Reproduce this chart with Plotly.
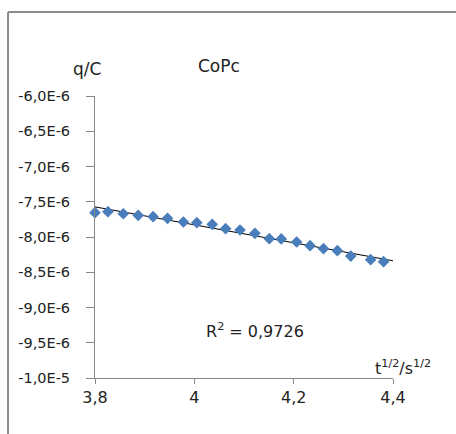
import numpy as np
import plotly.graph_objects as go

# data
x_vals = [3.800, 3.826, 3.857, 3.887, 3.917, 3.946, 3.978, 4.005, 4.036, 4.063, 4.092,
          4.122, 4.151, 4.175, 4.206, 4.233, 4.260, 4.288, 4.315, 4.355, 4.381]
q_vals = [-7.655e-6, -7.641e-6, -7.670e-6, -7.692e-6, -7.712e-6, -7.735e-6, -7.787e-6,
          -7.797e-6, -7.820e-6, -7.882e-6, -7.901e-6, -7.948e-6, -8.024e-6, -8.028e-6,
          -8.071e-6, -8.123e-6, -8.166e-6, -8.194e-6, -8.270e-6, -8.322e-6, -8.350e-6]
trend_x = [3.8, 4.4]

y_tickvals = [-6.0e-6, -6.5e-6, -7.0e-6, -7.5e-6, -8.0e-6, -8.5e-6, -9.0e-6, -9.5e-6, -1.0e-5]
y_ticktext = ["-6,0E-6", "-6,5E-6", "-7,0E-6", "-7,5E-6", "-8,0E-6", "-8,5E-6",
              "-9,0E-6", "-9,5E-6", "-1,0E-5"]
x_tickvals = [3.8, 4.0, 4.2, 4.4]
x_ticktext = ["3,8", "4", "4,2", "4,4"]

slope, intercept = np.polyfit(x_vals, q_vals, 1)
trend_y = [slope * v + intercept for v in trend_x]

FONT = "DejaVu Sans"
AX = "#888888"

fig = go.Figure()
fig.add_trace(go.Scatter(x=trend_x, y=trend_y, mode="lines",
                         line=dict(color="black", width=1), hoverinfo="skip"))
fig.add_trace(go.Scatter(x=x_vals, y=q_vals, mode="markers", cliponaxis=False,
                         marker=dict(symbol="diamond", size=9, color="#4A7EBB",
                                     line=dict(width=0))))

fig.update_layout(
    width=456, height=434,
    margin=dict(l=95, r=63, t=96, b=56),
    paper_bgcolor="white", plot_bgcolor="white",
    showlegend=False,
    font=dict(family=FONT, color="#222222"),
    xaxis=dict(range=[3.8, 4.4], tickvals=x_tickvals, ticktext=x_ticktext,
               showgrid=False, zeroline=False, showline=True, linecolor=AX, linewidth=1,
               ticks="outside", ticklen=5, tickcolor=AX, tickfont=dict(size=16, family=FONT)),
    yaxis=dict(range=[-1.0e-5, -6.0e-6], tickvals=y_tickvals, ticktext=y_ticktext,
               showgrid=False, zeroline=False, showline=True, linecolor=AX, linewidth=1,
               ticks="outside", ticklen=8, tickcolor=AX, ticklabelstandoff=13,
               tickfont=dict(size=14.5, family=FONT)),
    annotations=[
        dict(text="q/C", xref="paper", yref="paper", x=-0.027, y=1.0957,
             showarrow=False, font=dict(size=17, family=FONT), xanchor="center", yanchor="middle"),
        dict(text="CoPc", xref="paper", yref="paper", x=0.416, y=1.106,
             showarrow=False, font=dict(size=17, family=FONT), xanchor="center", yanchor="middle"),
        dict(text="R<sup>2</sup> = 0,9726", xref="paper", yref="paper", x=0.537, y=0.167,
             showarrow=False, font=dict(size=16, family=FONT), xanchor="center", yanchor="middle"),
        dict(text="t<sup>1/2</sup>/s<sup>1/2</sup>", xref="paper", yref="paper", x=0.932, y=0.039,
             showarrow=False, font=dict(size=16, family=FONT), xanchor="left", yanchor="middle"),
    ],
    shapes=[
        dict(type="line", xref="paper", yref="paper", x0=-0.2919, x1=1.25, y0=1.2979, y1=1.2979,
             line=dict(color="#8c8c8c", width=2)),
        dict(type="line", xref="paper", yref="paper", x0=-0.2919, x1=-0.2919, y0=1.2979, y1=-0.25,
             line=dict(color="#8c8c8c", width=2)),
    ],
)

fig.write_html("out.html")
